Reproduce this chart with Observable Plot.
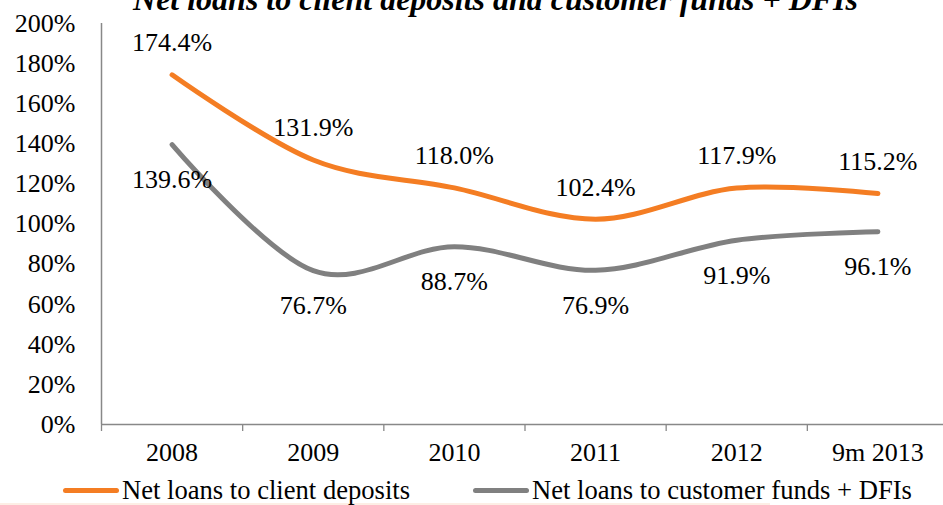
<!DOCTYPE html>
<html>
<head>
<meta charset="utf-8">
<script src="https://cdn.jsdelivr.net/npm/d3@7"></script>
<script src="https://cdn.jsdelivr.net/npm/@observablehq/plot@0.6"></script>
<style>
  html, body { margin: 0; padding: 0; background: #fff; overflow: hidden; }
  body { width: 943px; height: 505px; font-family: 'Liberation Serif', serif; }
  #legend { position: relative; height: 25px; width: 943px; font-size: 26.6px; color: #000; }
  .item { position: absolute; top: 0; height: 25px; display: flex; align-items: center; white-space: nowrap; }
  .swatch { width: 56px; height: 5px; border-radius: 3px; margin-right: 3px; }
  #strip { height: 2px; width: 770px; background: #fdeee5; }
</style>
</head>
<body>
<div id="chart"></div>
<div id="legend"></div>
<div id="strip"></div>
<script>
const title = "Net loans to client deposits and customer funds + DFIs";
const categories = ["2008", "2009", "2010", "2011", "2012", "9m 2013"];
const seriesNames = ["Net loans to client deposits", "Net loans to customer funds + DFIs"];
const clientDeposits = [174.4, 131.9, 118.0, 102.4, 117.9, 115.2];
const customerFunds = [139.6, 76.7, 88.7, 76.9, 91.9, 96.1];
const yTicks = [0, 20, 40, 60, 80, 100, 120, 140, 160, 180, 200];
const colors = ["#f47d23", "#808080"];

const rowsA = categories.map((c, i) => ({i, cat: c, v: clientDeposits[i]}));
const rowsB = categories.map((c, i) => ({i, cat: c, v: customerFunds[i]}));
const idx = categories.map((c, i) => i);
const bounds = [...categories.map((c, i) => i - 0.5), categories.length - 0.5];

const font = "'Liberation Serif', serif";
const fmt = v => v.toFixed(1) + "%";

const chart = Plot.plot({
  width: 943,
  height: 478,
  marginTop: 23,
  marginBottom: 54,
  marginLeft: 101,
  marginRight: 0,
  style: {fontFamily: font, fontSize: "26px", color: "#000", background: "#fff", overflow: "visible"},
  x: {type: "linear", domain: [-0.5, categories.length - 0.5], range: [101, 948], label: null},
  y: {domain: [0, 200], range: [424, 23], label: null},
  marks: [
    Plot.text([title], {frameAnchor: "top", dx: -27, dy: -14, lineAnchor: "bottom", fontSize: 32, fontWeight: "bold", fontStyle: "italic", fill: "#000"}),
    Plot.axisY({ticks: yTicks, tickSize: 0, tickPadding: 26, tickFormat: d => d + "%", fontSize: 26, fill: "#000", label: null}),
    Plot.axisX({ticks: bounds, tickSize: 7, tickFormat: () => "", stroke: "#888", strokeWidth: 1.3, label: null}),
    Plot.axisX({ticks: idx, tickSize: 0, tickPadding: 18, tickFormat: i => categories[i], fontSize: 26, fill: "#000", label: null}),
    Plot.ruleY([0], {stroke: "#888", strokeWidth: 1.5}),
    Plot.ruleX([-0.5], {y1: 0, y2: 200, stroke: "#888", strokeWidth: 1.5}),
    Plot.line(rowsA, {x: "i", y: "v", curve: "cardinal", stroke: colors[0], strokeWidth: 5, strokeLinecap: "round"}),
    Plot.line(rowsB, {x: "i", y: "v", curve: "cardinal", stroke: colors[1], strokeWidth: 5, strokeLinecap: "round"}),
    Plot.text(rowsA, {x: "i", y: "v", text: d => fmt(d.v), dy: -32, fontSize: 26, fill: "#000"}),
    Plot.text(rowsB, {x: "i", y: "v", text: d => fmt(d.v), dy: 35, fontSize: 26, fill: "#000"})
  ]
});
document.getElementById("chart").appendChild(chart);

const legend = document.getElementById("legend");
const legendX = [63, 473];
seriesNames.forEach((name, k) => {
  const item = document.createElement("div");
  item.className = "item";
  item.style.left = legendX[k] + "px";
  const sw = document.createElement("span");
  sw.className = "swatch";
  sw.style.background = colors[k];
  const tx = document.createElement("span");
  tx.textContent = name;
  item.appendChild(sw);
  item.appendChild(tx);
  legend.appendChild(item);
});
</script>
</body>
</html>
